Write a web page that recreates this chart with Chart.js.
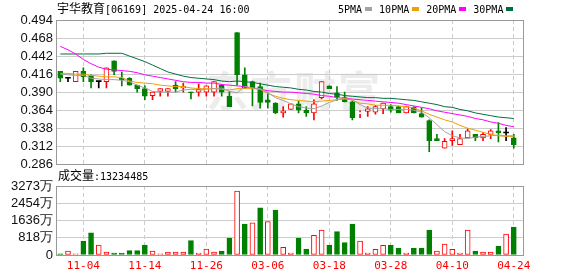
<!DOCTYPE html>
<html>
<head>
<meta charset="utf-8">
<script src="https://cdn.jsdelivr.net/npm/chart.js@4"></script>
<style>
  body { margin: 0; background: #fff; }
  #wrap { position: relative; width: 578px; height: 276px; overflow: hidden; }
  canvas { position: absolute; left: 0; }
  .cn { font-family: "Noto Sans CJK SC", sans-serif; font-size: 12px; }
  .en { font-family: "DejaVu Sans Mono", monospace; font-size: 10px; }
  #title { position: absolute; left: 57px; top: 1px; line-height: 14px; white-space: nowrap; color: #000; }
  #volTitle { position: absolute; left: 58px; top: 168px; line-height: 14px; white-space: nowrap; color: #000; }
  #legend { position: absolute; left: 338px; top: 2px; line-height: 12px; white-space: nowrap; }
  #legend .item { display: inline-block; margin-right: 7px; }
  #legend .sw { display: inline-block; width: 7px; height: 4px; margin-left: 3px; vertical-align: 2px; }
  #watermark { position: absolute; left: 206px; top: 58px; font-family: "Noto Sans CJK SC", sans-serif; font-weight: bold;
    font-size: 42px; color: #ececec; letter-spacing: 2px; white-space: nowrap; }
</style>
</head>
<body>
<div id="wrap">
  <div id="watermark">东方财富</div>
  <canvas id="kline" width="578" height="175" style="top:0"></canvas>
  <canvas id="vol" width="578" height="101" style="top:175px"></canvas>
  <div id="title"><span class="cn">宇华教育</span><span class="en">[06169] 2025-04-24 16:00</span></div>
  <div id="legend"></div>
  <div id="volTitle"><span class="cn">成交量</span><span class="en">:13234485</span></div>
</div>
<script>
const dates = ["10-30","10-31","11-01","11-04","11-05","11-06","11-07","11-08","11-11","11-12",
  "11-13","11-14","11-15","11-18","11-19","11-20","11-21","11-22","11-25","11-26",
  "11-27","11-28","11-29","02-28","03-03","03-04","03-05","03-06","03-07","03-10",
  "03-11","03-12","03-13","03-14","03-17","03-18","03-19","03-20","03-21","03-24",
  "03-25","03-26","03-27","03-28","03-31","04-01","04-02","04-03","04-07","04-08",
  "04-09","04-10","04-11","04-14","04-15","04-16","04-17","04-22","04-23","04-24"];
const labelIdx = [3, 11, 19, 27, 35, 43, 51, 59];

const open = [0.420,0.410,0.405,0.420,0.414,0.405,0.405,0.435,0.410,0.410,
  0.400,0.395,0.385,0.391,0.391,0.400,0.396,0.390,0.390,0.390,
  0.390,0.400,0.384,0.476,0.415,0.405,0.398,0.379,0.374,0.360,
  0.365,0.373,0.364,0.360,0.382,0.399,0.389,0.382,0.376,0.359,
  0.362,0.361,0.366,0.369,0.369,0.360,0.368,0.359,0.349,0.323,
  0.309,0.320,0.314,0.324,0.329,0.324,0.329,0.334,0.331,0.324];
const close = [0.410,0.410,0.420,0.412,0.405,0.405,0.425,0.420,0.408,0.400,
  0.395,0.384,0.390,0.395,0.395,0.395,0.398,0.389,0.394,0.399,
  0.405,0.390,0.369,0.415,0.396,0.396,0.375,0.375,0.360,0.363,
  0.373,0.364,0.360,0.373,0.405,0.395,0.383,0.376,0.353,0.359,
  0.366,0.369,0.374,0.364,0.360,0.369,0.360,0.354,0.320,0.320,
  0.319,0.323,0.323,0.334,0.324,0.329,0.334,0.331,0.331,0.314];
const high = [0.420,0.411,0.420,0.425,0.415,0.405,0.425,0.435,0.419,0.411,
  0.400,0.399,0.390,0.395,0.395,0.405,0.403,0.390,0.402,0.399,
  0.405,0.401,0.391,0.476,0.425,0.406,0.403,0.389,0.375,0.369,
  0.373,0.377,0.369,0.379,0.405,0.399,0.398,0.390,0.377,0.363,
  0.369,0.371,0.374,0.372,0.370,0.370,0.369,0.367,0.350,0.329,
  0.323,0.334,0.329,0.337,0.329,0.332,0.336,0.346,0.339,0.329];
const low = [0.405,0.405,0.405,0.405,0.396,0.396,0.396,0.415,0.399,0.400,
  0.390,0.379,0.379,0.384,0.384,0.390,0.390,0.380,0.384,0.384,
  0.384,0.384,0.369,0.400,0.395,0.370,0.367,0.367,0.359,0.354,
  0.365,0.360,0.355,0.350,0.380,0.395,0.378,0.376,0.350,0.353,
  0.355,0.358,0.359,0.361,0.360,0.360,0.360,0.354,0.304,0.320,
  0.309,0.313,0.314,0.324,0.320,0.320,0.323,0.318,0.320,0.309];

const ma5 = [0.416,0.415,0.414,0.414,0.410,0.409,0.408,0.408,0.407,0.405,
  0.400,0.396,0.391,0.390,0.390,0.390,0.393,0.394,0.393,0.394,
  0.395,0.396,0.391,0.389,0.398,0.396,0.395,0.389,0.382,0.378,
  0.373,0.369,0.367,0.366,0.370,0.375,0.379,0.380,0.379,0.372,
  0.367,0.366,0.366,0.365,0.365,0.365,0.364,0.361,0.353,0.343,
  0.333,0.327,0.324,0.323,0.325,0.326,0.327,0.328,0.327,0.327];
const ma10 = [0.417,0.417,0.416,0.416,0.414,0.413,0.412,0.412,0.411,0.406,
  0.404,0.403,0.402,0.400,0.399,0.398,0.398,0.396,0.395,0.395,
  0.395,0.394,0.393,0.395,0.395,0.395,0.394,0.388,0.384,0.381,
  0.379,0.378,0.377,0.376,0.377,0.378,0.379,0.381,0.378,0.374,
  0.373,0.371,0.371,0.371,0.370,0.369,0.367,0.363,0.358,0.354,
  0.350,0.347,0.342,0.338,0.335,0.332,0.329,0.327,0.326,0.326];
const ma20 = [0.456,0.451,0.445,0.437,0.431,0.426,0.423,0.422,0.421,0.420,
  0.418,0.415,0.413,0.411,0.409,0.407,0.405,0.404,0.404,0.403,
  0.403,0.401,0.400,0.399,0.398,0.396,0.394,0.392,0.391,0.390,
  0.390,0.389,0.388,0.387,0.385,0.384,0.382,0.381,0.380,0.379,
  0.378,0.377,0.376,0.375,0.374,0.372,0.370,0.368,0.366,0.363,
  0.361,0.359,0.357,0.355,0.352,0.350,0.347,0.345,0.342,0.340];
const ma30 = [0.445,0.445,0.445,0.445,0.445,0.445,0.446,0.446,0.446,0.442,
  0.438,0.434,0.429,0.424,0.419,0.416,0.413,0.411,0.410,0.409,
  0.408,0.406,0.405,0.406,0.405,0.404,0.402,0.400,0.398,0.397,
  0.396,0.394,0.393,0.391,0.390,0.388,0.387,0.385,0.384,0.383,
  0.382,0.382,0.381,0.381,0.380,0.379,0.378,0.376,0.374,0.372,
  0.369,0.368,0.365,0.363,0.360,0.358,0.356,0.354,0.353,0.352];

// volume in 万 shares, 1 = rising bar (red), 0 = falling bar (green)
const volume = [60,190,60,664,1057,474,142,95,95,205,
  205,474,190,60,142,142,142,679,95,284,
  142,190,806,3034,1469,1531,2242,1580,2133,363,
  95,806,284,932,1185,474,1106,584,1469,664,
  95,268,458,474,332,95,332,332,1185,190,
  521,268,95,1185,190,142,142,427,995,1323];
const volUp = [0,1,1,0,0,1,1,0,0,0,
  0,0,1,1,1,1,1,0,1,1,
  1,0,0,1,0,1,0,1,0,1,
  1,0,0,1,1,0,0,0,0,1,
  1,1,1,0,0,1,0,0,0,1,
  1,1,1,1,0,1,1,0,1,0];

const priceTicks = [0.286,0.312,0.338,0.364,0.390,0.416,0.442,0.468,0.494];
const volTicks = [0, 818, 1636, 2454, 3273];
const maNames = ["5PMA", "10PMA", "20PMA", "30PMA"];

const RED = "#ff0000";
const GREEN = "#008000";
const maColors = ["#a3a3a3", "#f0a000", "#ff00ff", "#006f3c"];

// build legend
const legendEl = document.getElementById("legend");
maNames.forEach((name, i) => {
  const item = document.createElement("span");
  item.className = "item";
  item.innerHTML = '<span class="en">' + name + '</span><span class="sw" style="background:' + maColors[i] + '"></span>';
  legendEl.appendChild(item);
});

function candleColor(i) {
  if (close[i] > open[i]) return RED;
  if (close[i] < open[i]) return GREEN;
  const prev = i > 0 ? close[i - 1] : close[i];
  if (close[i] > prev) return RED;
  if (close[i] < prev) return GREEN;
  return "#000";
}
const colors = dates.map((d, i) => candleColor(i));

const frame = {
  id: "frame",
  afterDraw(chart) {
    const { ctx, chartArea: a } = chart;
    ctx.save();
    ctx.strokeStyle = "#999";
    ctx.lineWidth = 1;
    ctx.strokeRect(Math.round(a.left) + 0.5, Math.round(a.top) + 0.5,
      Math.round(a.right - a.left), Math.round(a.bottom - a.top));
    ctx.restore();
  },
};

function xScale(showLabels) {
  return {
    type: "linear",
    min: -0.56,
    max: 60.2,
    offset: false,
    afterBuildTicks: (s) => { s.ticks = labelIdx.map((v) => ({ value: v })); },
    afterFit: (s) => { s.height = showLabels ? 21 : 0; },
    grid: { color: "#cccccc", drawTicks: false, offset: false },
    border: { display: false, dash: [4, 3] },
    ticks: {
      display: showLabels,
      autoSkip: false,
      maxRotation: 0,
      padding: 5,
      color: RED,
      font: { family: "DejaVu Sans Mono", size: 11 },
      callback: (v) => dates[v],
    },
  };
}

function yScale(min, max, tickList, fmt) {
  return {
    min: min,
    max: max,
    afterBuildTicks: (s) => { s.ticks = tickList.map((v) => ({ value: v })); },
    afterFit: (s) => { s.width = 56; },
    grid: { color: "#cccccc", drawTicks: false },
    border: { display: false },
    ticks: {
      autoSkip: false,
      padding: 3,
      color: "#111",
      font: { family: "Liberation Sans", size: 13 },
      callback: fmt,
    },
  };
}

function lineSet(values, color) {
  return {
    type: "line",
    data: values.map((v, i) => ({ x: i, y: v })),
    borderColor: color,
    borderWidth: 1,
    pointRadius: 0,
    tension: 0,
    order: 0,
  };
}

function printKline() {
  const ctx = document.getElementById("kline").getContext("2d");
  new Chart(ctx, {
    type: "bar",
    data: {
      datasets: [
        lineSet(ma5, maColors[0]),
        lineSet(ma10, maColors[1]),
        lineSet(ma20, maColors[2]),
        lineSet(ma30, maColors[3]),
        {
          data: dates.map((d, i) => ({ x: i, y: [open[i], close[i]] })),
          backgroundColor: colors.map((c) => (c === RED ? "#fff" : c)),
          borderColor: colors,
          borderWidth: colors.map((c, i) => (open[i] === close[i] ? 0 : 1)),
          borderSkipped: false,
          barThickness: 5,
          minBarLength: 1,
          grouped: false,
          order: 1,
        },
        {
          data: dates.map((d, i) => ({ x: i, y: [low[i], high[i]] })),
          backgroundColor: colors,
          borderWidth: 0,
          barThickness: 1,
          grouped: false,
          order: 2,
        },
      ],
    },
    options: {
      responsive: false,
      animation: false,
      devicePixelRatio: 1,
      events: [],
      layout: { padding: { left: 0, right: 55, top: 20, bottom: 10 } },
      plugins: { legend: { display: false }, tooltip: { enabled: false } },
      scales: {
        x: xScale(false),
        y: yScale(0.286, 0.494, priceTicks, (v) => v.toFixed(3)),
      },
    },
    plugins: [frame],
  });
}

function printVolume() {
  const ctx = document.getElementById("vol").getContext("2d");
  new Chart(ctx, {
    type: "bar",
    data: {
      datasets: [
        {
          data: volume.map((v, i) => ({ x: i, y: v })),
          backgroundColor: volUp.map((u) => (u ? "#fff" : GREEN)),
          borderColor: volUp.map((u) => (u ? RED : GREEN)),
          borderWidth: 1,
          borderSkipped: false,
          barThickness: 5,
          grouped: false,
        },
      ],
    },
    options: {
      responsive: false,
      animation: false,
      devicePixelRatio: 1,
      events: [],
      layout: { padding: { left: 0, right: 55, top: 11, bottom: 0 } },
      plugins: { legend: { display: false }, tooltip: { enabled: false } },
      scales: {
        x: xScale(true),
        y: yScale(0, 3273, volTicks, (v) => (v === 0 ? "0" : v + "万")),
      },
    },
    plugins: [frame],
  });
}

printKline();
printVolume();
</script>
</body>
</html>
